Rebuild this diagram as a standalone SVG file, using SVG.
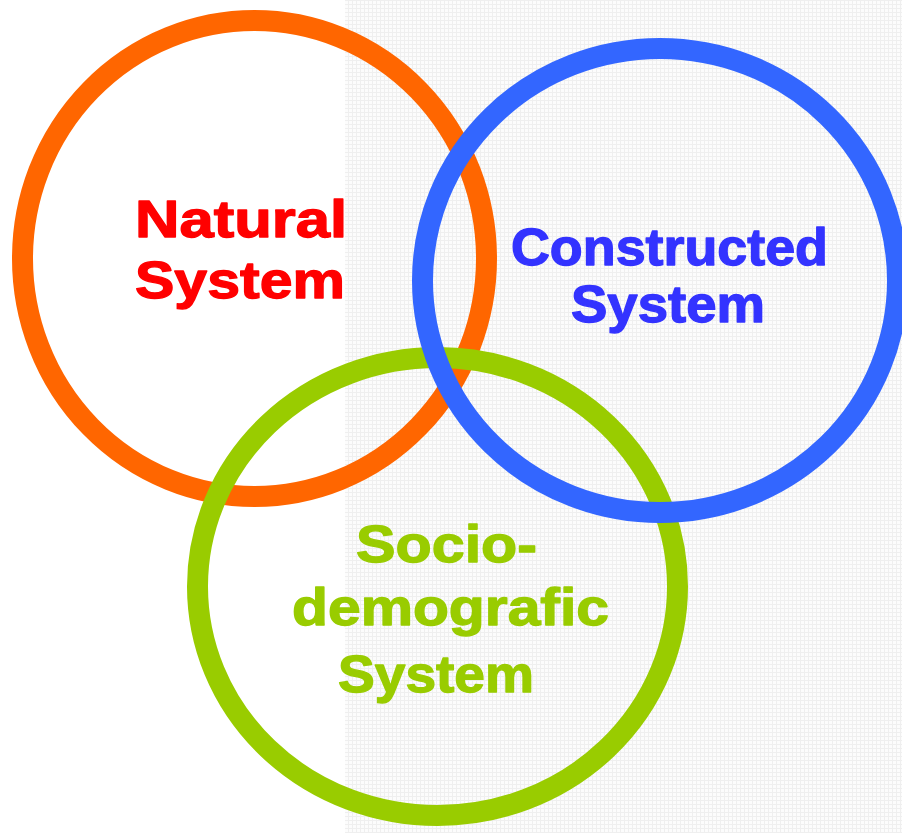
<svg xmlns="http://www.w3.org/2000/svg" width="902" height="833" viewBox="0 0 902 833">
  <defs>
    <pattern id="grid" width="4" height="4" patternUnits="userSpaceOnUse">
      <rect width="4" height="4" fill="#fcfcfc"/>
      <path d="M0 0.5H4M0.5 0V4" stroke="#efefef" stroke-width="1"/>
    </pattern>
    <style>
      .ring { fill: none; stroke-width: 21; }
      .lbl { font-family: "Liberation Sans", Arial, sans-serif; font-weight: bold; font-size: 52px; stroke-width: 1.3; stroke-linejoin: round; }
    </style>
  </defs>
  <rect width="902" height="833" fill="#ffffff"/>
  <g id="background">
    <rect x="345" y="0" width="557" height="833" fill="url(#grid)"/>
  </g>
  <g id="connectors"></g>
  <g id="natural">
    <ellipse class="ring" cx="254.5" cy="258.5" rx="232" ry="238" stroke="#FF6600"/>
    <text class="lbl" fill="#FF0000" stroke="#FF0000"><tspan x="135" y="237" textLength="212" lengthAdjust="spacingAndGlyphs">Natural</tspan><tspan x="135" y="298" textLength="210" lengthAdjust="spacingAndGlyphs">System</tspan></text>
  </g>
  <g id="sociodemografic">
    <ellipse class="ring" cx="437.5" cy="586.5" rx="240" ry="229" stroke="#99CC00"/>
    <text class="lbl" fill="#99CC00" stroke="#99CC00"><tspan x="356" y="562" textLength="181" lengthAdjust="spacingAndGlyphs">Socio-</tspan><tspan x="292" y="625" textLength="317" lengthAdjust="spacingAndGlyphs">demografic</tspan><tspan x="338" y="692" textLength="196" lengthAdjust="spacingAndGlyphs">System</tspan></text>
  </g>
  <g id="constructed">
    <ellipse class="ring" cx="660" cy="280.5" rx="237.5" ry="232" stroke="#3366FF"/>
    <text class="lbl" fill="#3333FF" stroke="#3333FF"><tspan x="511" y="265" textLength="317" lengthAdjust="spacingAndGlyphs">Constructed</tspan><tspan x="571" y="322" textLength="194" lengthAdjust="spacingAndGlyphs">System</tspan></text>
  </g>
</svg>
